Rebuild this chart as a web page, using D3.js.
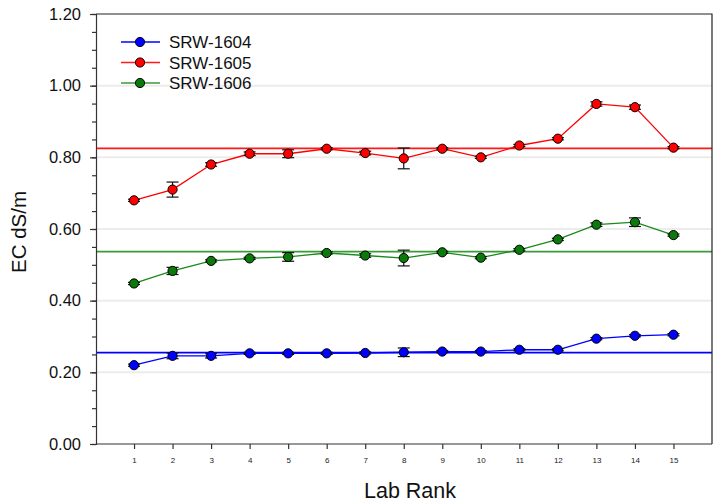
<!DOCTYPE html>
<html>
<head>
<meta charset="utf-8">
<script src="https://cdn.jsdelivr.net/npm/d3@7"></script>
<style>
  html, body { margin: 0; padding: 0; background: #fff; }
  svg { display: block; font-family: "Liberation Sans", Arial, sans-serif; }
</style>
</head>
<body>
<svg id="chart" width="718" height="503"></svg>
<script>
// Lab ranks on the x axis
const ranks = [1, 2, 3, 4, 5, 6, 7, 8, 9, 10, 11, 12, 13, 14, 15];

// Sample names
const sampleNames = ["SRW-1604", "SRW-1605", "SRW-1606"];

// Mean EC (dS/m) per lab rank
const ec1604 = [0.220, 0.246, 0.246, 0.253, 0.253, 0.253, 0.254, 0.256, 0.258, 0.258, 0.263, 0.263, 0.294, 0.302, 0.305];
const ec1605 = [0.680, 0.710, 0.780, 0.810, 0.810, 0.824, 0.812, 0.797, 0.824, 0.800, 0.833, 0.852, 0.949, 0.940, 0.827];
const ec1606 = [0.448, 0.483, 0.511, 0.518, 0.522, 0.533, 0.526, 0.519, 0.535, 0.520, 0.542, 0.571, 0.612, 0.619, 0.583];

// Error bar half-widths
const err1604 = [0.003, 0.008, 0.006, 0.003, 0.003, 0.003, 0.003, 0.012, 0.003, 0.003, 0.003, 0.003, 0.003, 0.003, 0.003];
const err1605 = [0.003, 0.021, 0.005, 0.005, 0.011, 0.003, 0.005, 0.029, 0.003, 0.003, 0.003, 0.003, 0.006, 0.006, 0.003];
const err1606 = [0.003, 0.010, 0.003, 0.003, 0.012, 0.003, 0.005, 0.022, 0.003, 0.003, 0.003, 0.003, 0.005, 0.012, 0.003];

// Consensus (median) values per sample
const consensus = [0.255, 0.825, 0.537];

// Axis ticks
const yMajorTicks = [0, 0.2, 0.4, 0.6, 0.8, 1.0, 1.2];
const yMinorTicks = d3.range(0, 1.2001, 0.05);

const series = [
  { name: sampleNames[0], values: ec1604, errs: err1604, ref: consensus[0], line: "#0000ff", fill: "#0000ff", refColor: "#0000ff" },
  { name: sampleNames[1], values: ec1605, errs: err1605, ref: consensus[1], line: "#ff0000", fill: "#ff0000", refColor: "#ff1a1a" },
  { name: sampleNames[2], values: ec1606, errs: err1606, ref: consensus[2], line: "#1a8a1a", fill: "#0a7a0a", refColor: "#3a9a3a" }
];

const svg = d3.select("#chart");
const plotLeft = 96, plotRight = 712, plotTop = 14, plotBottom = 444;

const x = d3.scaleLinear().domain([0, 16]).range([plotLeft - 0.5, plotRight]);
const y = d3.scaleLinear().domain([0, 1.2]).range([plotBottom, plotTop]);

// Light horizontal grid
svg.append("g")
  .selectAll("line")
  .data(yMajorTicks.filter(v => v > 0 && v < 1.2))
  .join("line")
  .attr("x1", plotLeft).attr("x2", plotRight)
  .attr("y1", d => y(d)).attr("y2", d => y(d))
  .attr("stroke", "#ececec").attr("stroke-width", 2);

// Consensus lines
svg.append("g")
  .selectAll("line")
  .data(series)
  .join("line")
  .attr("x1", plotLeft + 1).attr("x2", plotRight)
  .attr("y1", d => y(d.ref)).attr("y2", d => y(d.ref))
  .attr("stroke", d => d.refColor).attr("stroke-width", 1.6);

// Frame (top and right)
svg.append("path")
  .attr("d", `M${plotLeft},${plotTop}H${plotRight}V${plotBottom}`)
  .attr("fill", "none").attr("stroke", "#222").attr("stroke-width", 1.2);

// Y axis with major and minor ticks
const yAxis = d3.axisLeft(y).tickValues(yMajorTicks).tickFormat(d3.format(".2f")).tickSize(6).tickPadding(9);
const yg = svg.append("g").attr("transform", `translate(${plotLeft},0)`).call(yAxis);
yg.select(".domain").attr("stroke", "#333").attr("stroke-width", 1.2);
yg.selectAll(".tick line").attr("stroke", "#333").attr("stroke-width", 1.2);
yg.selectAll(".tick text").attr("font-size", 16.5).attr("fill", "#111").attr("font-family", "Liberation Sans, Arial, sans-serif");
svg.append("g").attr("transform", `translate(${plotLeft},0)`)
  .call(d3.axisLeft(y).tickValues(yMinorTicks).tickSize(4).tickFormat(""))
  .call(g => g.select(".domain").remove())
  .selectAll(".tick line").attr("stroke", "#333").attr("stroke-width", 1.2);

// X axis
const xAxis = d3.axisBottom(x).tickValues(ranks).tickFormat(d3.format("d")).tickSize(5).tickPadding(8);
const xg = svg.append("g").attr("transform", `translate(0,${plotBottom})`).call(xAxis);
xg.select(".domain").attr("stroke", "#333").attr("stroke-width", 1.2).attr("d", `M${plotLeft},0H${plotRight}`);
xg.selectAll(".tick line").attr("stroke", "#333").attr("stroke-width", 1.2);
xg.selectAll(".tick text").attr("font-size", 8).attr("fill", "#222").attr("font-family", "Liberation Sans, Arial, sans-serif");

// Axis titles
svg.append("text")
  .attr("transform", `translate(26,232) rotate(-90)`)
  .attr("text-anchor", "middle")
  .attr("font-size", 20.5).attr("fill", "#111")
  .text("EC dS/m");
svg.append("text")
  .attr("x", 410).attr("y", 498)
  .attr("text-anchor", "middle")
  .attr("font-size", 21.5).attr("fill", "#111")
  .text("Lab Rank");

// Series: line, error bars, markers
const lineGen = d3.line().x((d, i) => x(ranks[i])).y(d => y(d));
const capHalf = 6;

series.forEach(s => {
  const g = svg.append("g");
  g.append("path")
    .attr("d", lineGen(s.values))
    .attr("fill", "none").attr("stroke", s.line).attr("stroke-width", 1.3);

  const eb = g.append("g")
    .selectAll("g")
    .data(s.values.map((v, i) => ({ r: ranks[i], v, e: s.errs[i] })))
    .join("g");
  eb.append("line")
    .attr("x1", d => x(d.r)).attr("x2", d => x(d.r))
    .attr("y1", d => y(d.v - d.e)).attr("y2", d => y(d.v + d.e))
    .attr("stroke", "#111").attr("stroke-width", 1.2);
  eb.append("line")
    .attr("x1", d => x(d.r) - capHalf).attr("x2", d => x(d.r) + capHalf)
    .attr("y1", d => y(d.v + d.e)).attr("y2", d => y(d.v + d.e))
    .attr("stroke", "#111").attr("stroke-width", 1.2);
  eb.append("line")
    .attr("x1", d => x(d.r) - capHalf).attr("x2", d => x(d.r) + capHalf)
    .attr("y1", d => y(d.v - d.e)).attr("y2", d => y(d.v - d.e))
    .attr("stroke", "#111").attr("stroke-width", 1.2);

  g.append("g")
    .selectAll("circle")
    .data(s.values)
    .join("circle")
    .attr("cx", (d, i) => x(ranks[i])).attr("cy", d => y(d))
    .attr("r", 4.6)
    .attr("fill", s.fill).attr("stroke", "#000").attr("stroke-width", 1);
});

// Legend
const legend = svg.append("g");
const legendY = [42, 62.5, 83];
series.forEach((s, i) => {
  legend.append("line")
    .attr("x1", 121).attr("x2", 160)
    .attr("y1", legendY[i]).attr("y2", legendY[i])
    .attr("stroke", s.refColor).attr("stroke-width", 1.5);
  legend.append("circle")
    .attr("cx", 140).attr("cy", legendY[i]).attr("r", 4.6)
    .attr("fill", s.fill).attr("stroke", "#000").attr("stroke-width", 1);
  legend.append("text")
    .attr("x", 169).attr("y", legendY[i] + 6)
    .attr("font-size", 17).attr("fill", "#111")
    .text(s.name);
});
</script>
</body>
</html>
